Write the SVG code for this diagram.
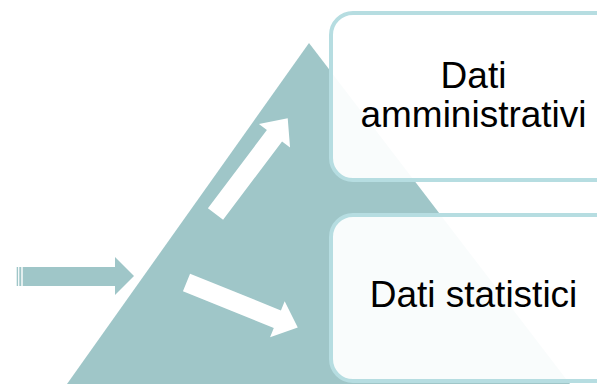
<svg xmlns="http://www.w3.org/2000/svg" width="597" height="384" viewBox="0 0 597 384">
<defs>
<style>
.tri{fill:#9fc6c8}
.arr{fill:#ffffff}
.box{fill:#ffffff;fill-opacity:0.94;stroke:#b6dde1;stroke-width:4}
.lbl{font-family:"Liberation Sans",Arial,sans-serif;font-size:37px;fill:#000000;text-anchor:middle}
</style>
<path id="arrowShape" d="M0,-9.5 L98,-9.5 L98,-19.5 L120,0 L98,19.5 L98,9.5 L0,9.5 Z"/>
</defs>
<rect width="597" height="384" fill="#ffffff"/>
<g id="pyramid">
<polygon class="tri" points="309,43 67,384 570,384"/>
</g>
<g id="connectors">
<g id="input-arrow" class="tri">
<rect x="16.7" y="267" width="1.4" height="19"/>
<rect x="19.3" y="267" width="2" height="19"/>
<path d="M22.7,267 L115,267 L115,257 L134,276 L115,295 L115,286 L22.7,286 Z"/>
</g>
<use href="#arrowShape" class="arr" transform="translate(215.5,214) rotate(-53)"/>
<use href="#arrowShape" class="arr" transform="translate(186.5,282.5) rotate(22)"/>
</g>
<g id="node-admin">
<rect class="box" x="331" y="13" width="290" height="167" rx="22" ry="22"/>
<text class="lbl" x="473.5" y="88">Dati</text>
<text class="lbl" x="473.5" y="127">amministrativi</text>
</g>
<g id="node-stat">
<rect class="box" x="331" y="215" width="290" height="166" rx="22" ry="22"/>
<text class="lbl" x="473.5" y="307">Dati statistici</text>
</g>
</svg>
